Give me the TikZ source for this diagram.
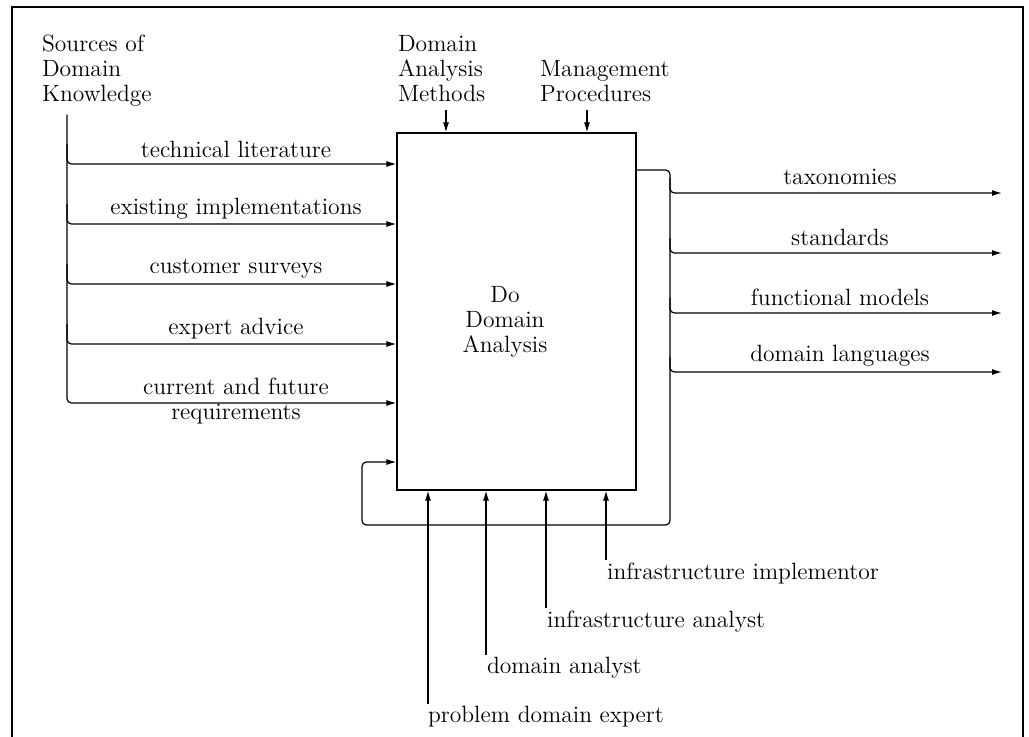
\documentclass[tikz,border=0pt]{standalone}
\usepackage{tikz}
\usetikzlibrary{arrows.meta,calc}
\tikzset{
  procbox/.style={rectangle, draw, line width=0.7pt, minimum width=4.78cm, minimum height=7.14cm, inner sep=0pt},
  lbl/.style={font=\fontsize{13.4}{14.2}\selectfont, align=left, inner sep=1pt},
  clbl/.style={font=\fontsize{13.4}{14.2}\selectfont, align=center, inner sep=1pt},
  arr/.style={-{Latex[length=2mm,width=1.2mm]}, line width=0.7pt, rounded corners=2.5pt},
  cadre/.style={line width=1.6pt},
}

\begin{document}
\begin{tikzpicture}[x=0.02cm, y=-0.02cm]
  \useasboundingbox (0,0) rectangle (1029,737);
  \draw[cadre] (12,760) -- (12,7) -- (1023,7) -- (1023,760);

  \node[procbox] (dda) at (516.5,311.5) {};
  \node[clbl] (ddatxt) at (505,322) {Do\\Domain\\Analysis};

  \node[lbl, anchor=north west] (src) at (40,33) {Sources of\\Domain\\Knowledge};
  \node[lbl, anchor=south west] (dam) at (396,104) {Domain\\Analysis\\Methods};
  \node[lbl, anchor=south west] (mgp) at (538,104) {Management\\Procedures};
  \draw[arr] ($(dam.south -| 446,0)+(0,6)$) -- (dda.north -| 446,0);
  \draw[arr] ($(mgp.south -| 587,0)+(0,6)$) -- (dda.north -| 587,0);

  \draw[arr] ($(src.south -| 67,0)+(0,6)$) |- (dda.west |- 0,403);
  \foreach \y/\t in {164/technical literature, 224/existing implementations, 284/customer surveys, 344/expert advice} {
    \draw[arr] (67,\y-20) |- (dda.west |- 0,\y);
    \node[clbl] (in\y) at (236,\y-15) {\t};
  }
  \node[clbl] (in403) at (236,401) {current and future\\requirements};

  \draw[arr] (dda.east |- 0,170) -| (670,525) -| (362,462) -- (dda.west |- 0,462);
  \foreach \y/\t [count=\i] in {193/taxonomies, 253/standards, 313/functional models, 372/domain languages} {
    \coordinate (out\i) at (1002,\y);
    \draw[arr] (670,\y-15) |- (out\i);
    \node[clbl] (olbl\i) at (840,\y-16) {\t};
  }

  \node[lbl, anchor=base west] (pde) at (426,722) {problem domain expert};
  \node[lbl, anchor=base west] (dan) at (485,673) {domain analyst};
  \node[lbl, anchor=base west] (ian) at (545,627) {infrastructure analyst};
  \node[lbl, anchor=base west] (iim) at (605,579) {infrastructure implementor};
  \draw[arr] (pde.north west -| 428,0) -- (dda.south -| 428,0);
  \draw[arr] (dan.north west -| 486,0) -- (dda.south -| 486,0);
  \draw[arr] (ian.north west -| 546,0) -- (dda.south -| 546,0);
  \draw[arr] (iim.north west -| 606,0) -- (dda.south -| 606,0);
\end{tikzpicture}
\end{document}
